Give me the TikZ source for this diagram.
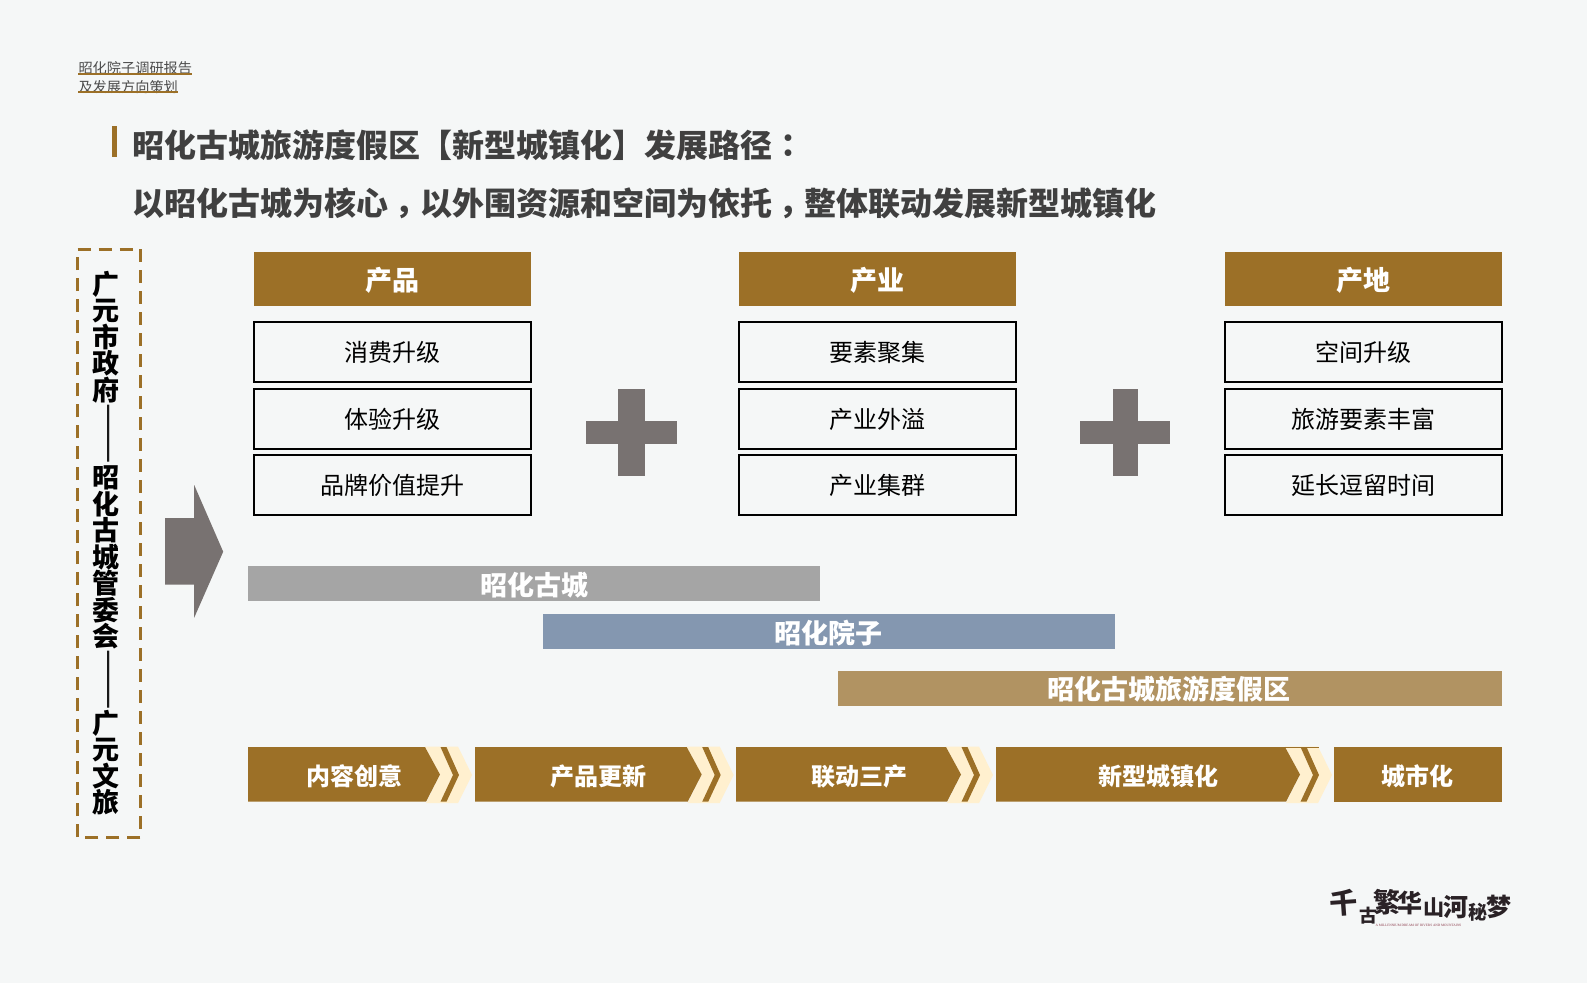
\documentclass[tikz,border=0pt]{standalone}
\usepackage{fontspec}
\setmainfont{Noto Sans CJK SC}
\newfontfamily\punctfont{Noto Sans CJK TC}
\newfontfamily\latinserif{Liberation Serif}
\definecolor{pagebg}{HTML}{F5F7F7}
\definecolor{gold}{HTML}{9C7027}
\definecolor{cream}{HTML}{FFF0CF}
\definecolor{plusgray}{HTML}{787271}
\definecolor{bargray}{HTML}{A5A5A5}
\definecolor{barblue}{HTML}{8497B0}
\definecolor{bartan}{HTML}{B19362}
\definecolor{titlegray}{HTML}{404040}
\definecolor{inkdark}{HTML}{2A2226}
\definecolor{inkred}{HTML}{8A3A4A}
\newcommand{\fs}[1]{\fontsize{#1}{#1}\selectfont}
\newcommand{\pc}[1]{{\punctfont\bfseries #1}}
\newcommand{\tdown}[2]{\raisebox{-#1}[\height][\depth]{#2}}
\tikzset{
  rectbase/.style={anchor=north west,inner sep=0pt,outer sep=0pt},
  header/.style={rectbase,fill=gold,text=white,minimum width=277pt,minimum height=53.7pt,font=\fs{27}\bfseries},
  itembox/.style={rectbase,draw=black,line width=1.7pt,fill=none,text=black,minimum width=277pt,minimum height=60pt,font=\fs{24}},
  bar/.style={rectbase,minimum height=34.6pt},
  bartext/.style={inner sep=0pt,text=white,font=\fs{27}\bfseries},
  chevtext/.style={inner sep=0pt,text=white,font=\fs{24}\bfseries},
  titletext/.style={anchor=west,inner sep=0pt,text=titlegray,font=\fs{32}\bfseries},
  smalltext/.style={anchor=west,inner sep=0pt,text=black!70,font=\fs{14.2}},
  sidetext/.style={inner sep=0pt,text=black,align=center,font=\fontsize{27}{26.5}\selectfont\bfseries},
  sidedash/.style={inner sep=0pt,text=black!90,rotate=-90,font=\fs{36}},
  logotext/.style={inner sep=0pt,text=inkdark,font=\bfseries},
}
% left end, x of top of point
\newcommand{\chev}[2]{%
  \fill[cream] (#2,746.5) -- (#2+33,746.5) -- (#2+47,775) -- (#2+33,803) -- (#2+1,803) -- (#2+15,775) -- cycle;
  \fill[gold] (#1,747) -- (#2,747) -- (#2+15,774.5) -- (#2+1,801.7) -- (#1,801.7) -- cycle;
  \fill[gold] (#2+15.5,747) -- (#2+21.5,747) -- (#2+34,775) -- (#2+21.5,801.7) -- (#2+15.5,801.7) -- (#2+28,775) -- cycle;
}
\begin{document}
\begin{tikzpicture}[x=1pt,y=-1pt]
\useasboundingbox (0,0) rectangle (1587,983);
\fill[pagebg] (0,0) rectangle (1587,983);

% running head
\node[smalltext] (head1) at (78.3,68.3) {昭化院子调研报告};
\node[smalltext] (head2) at (78.3,86.7) {及发展方向策划};
\fill[gold] (78.3,73.4) rectangle (191.7,75.4);
\fill[gold] (78.3,91.4) rectangle (178,93.4);

% title
\fill[gold] (112.3,126) rectangle (117,156.7);
\node[titletext] (title1) at (132,145.7) {昭化古城旅游度假区【新型城镇化】发展路径\pc{：}};
\node[titletext] (title2) at (132,203.4) {以昭化古城为核心\tdown{8pt}{\pc{，}}以外围资源和空间为依托\tdown{8pt}{\pc{，}}整体联动发展新型城镇化};

% side column
\draw[gold,line width=2.6pt,dash pattern=on 13pt off 8pt] (77.5,249.3) -- (140.4,249.3) -- (140.4,837.3) -- (77.5,837.3) -- cycle;
\node[sidetext] (side1) at (105.7,337) {广\\元\\市\\政\\府};
\node[sidedash] (sidedash1) at (104.5,433.5) {——};
\node[sidetext] (side2) at (105.7,557.5) {昭\\化\\古\\城\\管\\委\\会};
\node[sidedash] (sidedash2) at (104.5,679.5) {——};
\node[sidetext] (side3) at (105.7,762.5) {广\\元\\文\\旅};

% big arrow
\fill[plusgray] (165.2,518) -- (194.2,518) -- (194.2,485) -- (223.2,551.7) -- (194.2,617.7) -- (194.2,584.7) -- (165.2,584.7) -- cycle;

% column 1
\node[header] (h1) at (254,252) {\tdown{1.6pt}{产品}};
\node[itembox] (a1) at (253.9,321.9) {\tdown{0.8pt}{消费升级}};
\node[itembox] (a2) at (253.9,389) {体验升级};
\node[itembox] (a3) at (253.9,455) {\tdown{0.8pt}{品牌价值提升}};
% column 2
\node[header] (h2) at (739.2,252) {\tdown{1.6pt}{产业}};
\node[itembox] (b1) at (739.3,321.9) {\tdown{0.8pt}{要素聚集}};
\node[itembox] (b2) at (739.3,389) {产业外溢};
\node[itembox] (b3) at (739.3,455) {\tdown{0.8pt}{产业集群}};
% column 3
\node[header] (h3) at (1225,252) {\tdown{1.6pt}{产地}};
\node[itembox] (c1) at (1225,321.9) {\tdown{0.8pt}{空间升级}};
\node[itembox] (c2) at (1225,389) {旅游要素丰富};
\node[itembox] (c3) at (1225,455) {\tdown{0.8pt}{延长逗留时间}};

% plus signs
\fill[plusgray] (586,421.3) rectangle (677,443.7);
\fill[plusgray] (618.3,389) rectangle (645,476);
\fill[plusgray] (1080,421.3) rectangle (1170,443.7);
\fill[plusgray] (1112.7,389) rectangle (1138.2,476);

% bars
\node[bar,fill=bargray,minimum width=571.8pt] (bar1) at (248.2,566) {};
\node[bartext] (bar1t) at (534,585.5) {昭化古城};
\node[bar,fill=barblue,minimum width=572.1pt] (bar2) at (542.9,614) {};
\node[bartext] (bar2t) at (828,633.5) {昭化院子};
\node[bar,fill=bartan,minimum width=664pt] (bar3) at (838,671) {};
\node[bartext] (bar3t) at (1169,689.3) {昭化古城旅游度假区};

% chevrons
\chev{248}{425}
\chev{475}{686.7}
\chev{736}{946}
\chev{996}{1285}
\fill[gold] (1285,746.6) rectangle (1319,747.2);
\fill[gold] (1334,747) rectangle (1502,801.7);
\node[chevtext] (s1) at (354.6,776) {内容创意};
\node[chevtext] (s2) at (598,776) {产品更新};
\node[chevtext] (s3) at (859,776) {联动三产};
\node[chevtext] (s4) at (1158,776) {新型城镇化};
\node[chevtext] (s5) at (1417,776) {城市化};

% logo
\node[logotext,font=\fs{28}\bfseries,rotate=4] (l1) at (1344,903) {千};
\node[logotext,font=\fs{18}\bfseries] (l2) at (1368,916) {古};
\node[logotext,font=\fs{27}\bfseries] (l3) at (1387,902) {繁};
\node[logotext,font=\fs{25}\bfseries] (l4) at (1410,903) {华};
\node[logotext,font=\fs{21}\bfseries] (l5) at (1434,908) {山};
\node[logotext,font=\fs{25}\bfseries] (l6) at (1456,907) {河};
\node[logotext,font=\fs{19}\bfseries] (l7) at (1478,912) {秘};
\node[logotext,font=\fs{25}\bfseries] (l8) at (1499,907) {梦};
\node[inner sep=0pt,text=inkred,font=\latinserif\fs{3.4}] (l9) at (1418.5,925.5) {A MILLENNIUM DREAM OF RIVERS AND MOUNTAINS};
\end{tikzpicture}
\end{document}
